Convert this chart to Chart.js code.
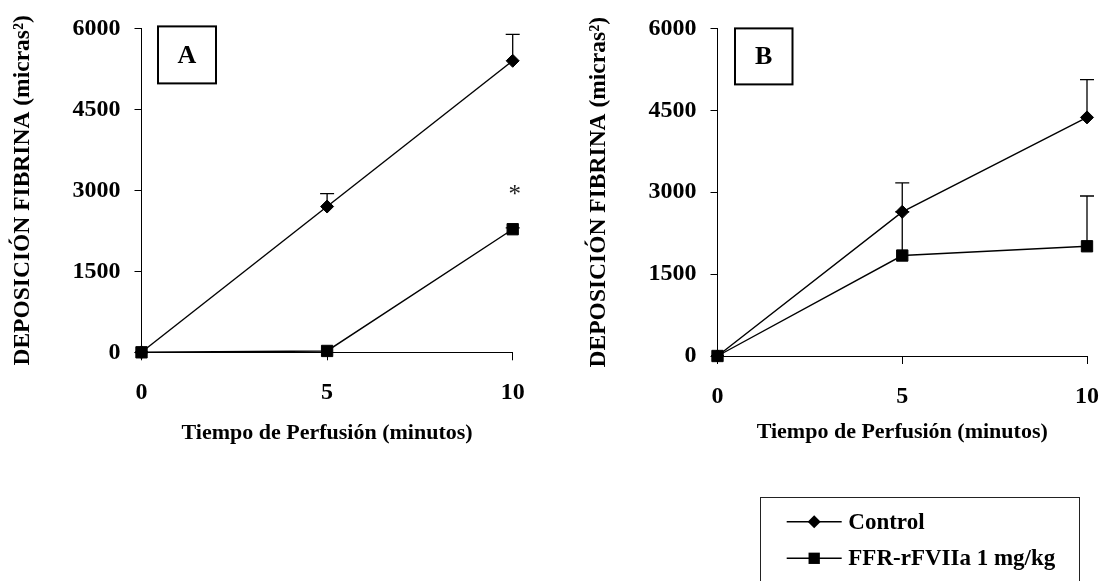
<!DOCTYPE html>
<html>
<head>
<meta charset="utf-8">
<script src="https://cdn.jsdelivr.net/npm/chart.js@4"></script>
<style>
  html, body { margin: 0; padding: 0; background: #fff; }
  #wrap { position: relative; width: 1117px; height: 581px; overflow: hidden; }
  canvas { position: absolute; top: 0; }
</style>
</head>
<body>
<div id="wrap">
  <canvas id="chartA" width="560" height="581" style="left:0"></canvas>
  <canvas id="chartB" width="557" height="581" style="left:560px"></canvas>
</div>
<script>
// Perfusion time points (minutes) and axis tick labels
const minutes = [0, 5, 10];
const xTicks = [0, 5, 10];
const yTicks = [0, 1500, 3000, 4500, 6000];
const xTickLabels = ['0', '5', '10'];
const yTickLabels = ['0', '1500', '3000', '4500', '6000'];
const seriesNames = ['Control', 'FFR-rFVIIa 1 mg/kg'];

// Panel A: fibrin deposition (micras²), mean and upper error
const controlA = [0, 2700, 5400];
const controlErrA = [0, 240, 490];
const ffrA = [0, 25, 2280];
const ffrErrA = [0, 0, 25];
// significance mark at 10 min
const starA = { x: 10, y: 2930, text: '*' };

// Panel B
const controlB = [0, 2640, 4370];
const controlErrB = [0, 530, 690];
const ffrB = [0, 1840, 2010];
const ffrErrB = [0, 800, 920];

const SERIF = '"Liberation Serif", "Times New Roman", serif';
const Y_TITLE = 'DEPOSICIÓN FIBRINA (micras²)';
const X_TITLE = 'Tiempo de Perfusión (minutos)';

// one-sided (upper) error bars, drawn behind the markers
const errorBars = {
  id: 'errorBars',
  beforeDatasetsDraw(chart) {
    const { ctx, scales: { x, y } } = chart;
    ctx.save();
    ctx.strokeStyle = '#000';
    ctx.lineWidth = 1.3;
    chart.data.datasets.forEach(ds => {
      if (!ds.errors) return;
      ds.data.forEach((p, j) => {
        const e = ds.errors[j];
        if (!e) return;
        const px = x.getPixelForValue(p.x);
        const py = y.getPixelForValue(p.y);
        const pt = y.getPixelForValue(p.y + e);
        ctx.beginPath();
        ctx.moveTo(px, py); ctx.lineTo(px, pt);
        ctx.moveTo(px - 7, pt); ctx.lineTo(px + 7, pt);
        ctx.stroke();
      });
    });
    ctx.restore();
  }
};

// boxed panel letter in the upper-left corner of the plot
const panelTag = {
  id: 'panelTag',
  afterDraw(chart, args, opts) {
    if (!opts || !opts.text) return;
    const { ctx, chartArea } = chart;
    const x = chartArea.left + opts.dx, y = chartArea.top + opts.dy;
    ctx.save();
    ctx.lineWidth = 2;
    ctx.strokeStyle = '#000';
    ctx.strokeRect(x, y, opts.w, opts.h);
    ctx.fillStyle = '#000';
    ctx.font = 'bold 26px ' + SERIF;
    ctx.textAlign = 'center';
    ctx.textBaseline = 'middle';
    ctx.fillText(opts.text, x + opts.w / 2, y + opts.h / 2 + 1);
    ctx.restore();
  }
};

// text annotations placed in data coordinates
const marks = {
  id: 'marks',
  afterDatasetsDraw(chart, args, opts) {
    if (!opts || !opts.items) return;
    const { ctx, scales: { x, y } } = chart;
    ctx.save();
    ctx.fillStyle = '#222';
    ctx.font = '25px ' + SERIF;
    ctx.textAlign = 'center';
    ctx.textBaseline = 'middle';
    opts.items.forEach(m => {
      ctx.fillText(m.text, x.getPixelForValue(m.x) + 2, y.getPixelForValue(m.y) + 1);
    });
    ctx.restore();
  }
};

function drawMarker(ctx, style, cx, cy, r) {
  ctx.beginPath();
  if (style === 'rectRot') {
    ctx.moveTo(cx, cy - r); ctx.lineTo(cx + r, cy);
    ctx.lineTo(cx, cy + r); ctx.lineTo(cx - r, cy);
  } else {
    const s = r * Math.SQRT1_2;
    ctx.rect(cx - s, cy - s, 2 * s, 2 * s);
  }
  ctx.closePath();
  ctx.fill();
}

// boxed legend: line sample with marker, then the series name
const boxLegend = {
  id: 'boxLegend',
  afterDraw(chart, args, opts) {
    if (!opts || !opts.show) return;
    const { ctx } = chart;
    ctx.save();
    ctx.strokeStyle = '#222';
    ctx.lineWidth = 1;
    ctx.strokeRect(opts.left + 0.5, opts.top + 0.5, opts.right - opts.left, 200);
    ctx.font = 'bold 23px ' + SERIF;
    ctx.textAlign = 'left';
    ctx.textBaseline = 'middle';
    chart.data.datasets.forEach((ds, i) => {
      const yy = opts.rows[i];
      ctx.strokeStyle = '#000';
      ctx.lineWidth = 1.6;
      ctx.beginPath();
      ctx.moveTo(opts.lineX[0], yy); ctx.lineTo(opts.lineX[1], yy);
      ctx.stroke();
      ctx.fillStyle = '#000';
      drawMarker(ctx, ds.pointStyle, (opts.lineX[0] + opts.lineX[1]) / 2, yy, ds.pointRadius);
      ctx.fillText(ds.label, opts.textX, yy + 1);
    });
    ctx.restore();
  }
};

function buildChart(id, cfg) {
  const toPoints = vals => minutes.map((m, i) => ({ x: m, y: vals[i] }));
  const common = {
    borderColor: '#000', backgroundColor: '#000', borderWidth: 1.4,
    pointBorderColor: '#000', pointBackgroundColor: '#000', pointBorderWidth: 1,
    tension: 0, clip: false, fill: false
  };
  return new Chart(document.getElementById(id), {
    type: 'line',
    data: {
      datasets: [
        Object.assign({ label: seriesNames[0], data: toPoints(cfg.control), errors: cfg.controlErr,
          pointStyle: 'rectRot', pointRadius: 6.5 }, common),
        Object.assign({ label: seriesNames[1], data: toPoints(cfg.ffr), errors: cfg.ffrErr,
          pointStyle: 'rect', pointRadius: 8 }, common)
      ]
    },
    plugins: [errorBars, panelTag, marks, boxLegend],
    options: {
      responsive: false,
      animation: false,
      devicePixelRatio: 1,
      layout: { padding: cfg.padding },
      plugins: {
        legend: { display: false },
        tooltip: { enabled: false },
        panelTag: cfg.tag,
        marks: { items: cfg.marks || [] },
        boxLegend: cfg.legend || { show: false }
      },
      scales: {
        x: {
          type: 'linear', min: 0, max: 10,
          afterBuildTicks: s => { s.ticks = xTicks.map(v => ({ value: v })); },
          afterFit: s => { s.height = 100; },
          grid: { display: true, drawOnChartArea: false, drawTicks: true, tickLength: 8, color: '#000', lineWidth: 1 },
          border: { display: true, color: '#000', width: 1 },
          ticks: { color: '#000', padding: 18, maxRotation: 0,
            callback: (v, i) => xTickLabels[i],
            font: { family: SERIF, size: 24, weight: 'bold' } },
          title: { display: true, text: X_TITLE, color: '#000', padding: { top: 0, bottom: cfg.xTitlePad },
            font: { family: SERIF, size: 22, weight: 'bold' } }
        },
        y: {
          type: 'linear', min: 0, max: 6000,
          afterBuildTicks: s => { s.ticks = yTicks.map(v => ({ value: v })); },
          afterFit: s => { s.width = cfg.yWidth; },
          grid: { display: true, drawOnChartArea: false, drawTicks: true, tickLength: 7, color: '#000', lineWidth: 1 },
          border: { display: true, color: '#000', width: 1 },
          ticks: { color: '#000', padding: 14,
            callback: (v, i) => yTickLabels[i],
            font: { family: SERIF, size: 24, weight: 'bold' } },
          title: { display: true, text: Y_TITLE, color: '#000', padding: { top: cfg.yTitlePad, bottom: 0 },
            font: { family: SERIF, size: 23.5, weight: 'bold' } }
        }
      }
    }
  });
}

buildChart('chartA', {
  control: controlA, controlErr: controlErrA, ffr: ffrA, ffrErr: ffrErrA,
  padding: { left: 0, top: 21.3, right: 47.3, bottom: 128.7 },
  yWidth: 141.5, yTitlePad: 9, xTitlePad: 6,
  tag: { text: 'A', dx: 16.5, dy: -2, w: 58, h: 57 },
  marks: [starA]
});

buildChart('chartB', {
  control: controlB, controlErr: controlErrB, ffr: ffrB, ffrErr: ffrErrB,
  padding: { left: 0, top: 18.3, right: 18, bottom: 125 },
  yWidth: 157.5, yTitlePad: 25, xTitlePad: 10,
  tag: { text: 'B', dx: 17.5, dy: 0, w: 57.5, h: 56 },
  legend: { show: true, left: 200, top: 497, right: 519, rows: [521.7, 558.3], lineX: [226.7, 281.7], textX: 288.3 }
});
</script>
</body>
</html>
